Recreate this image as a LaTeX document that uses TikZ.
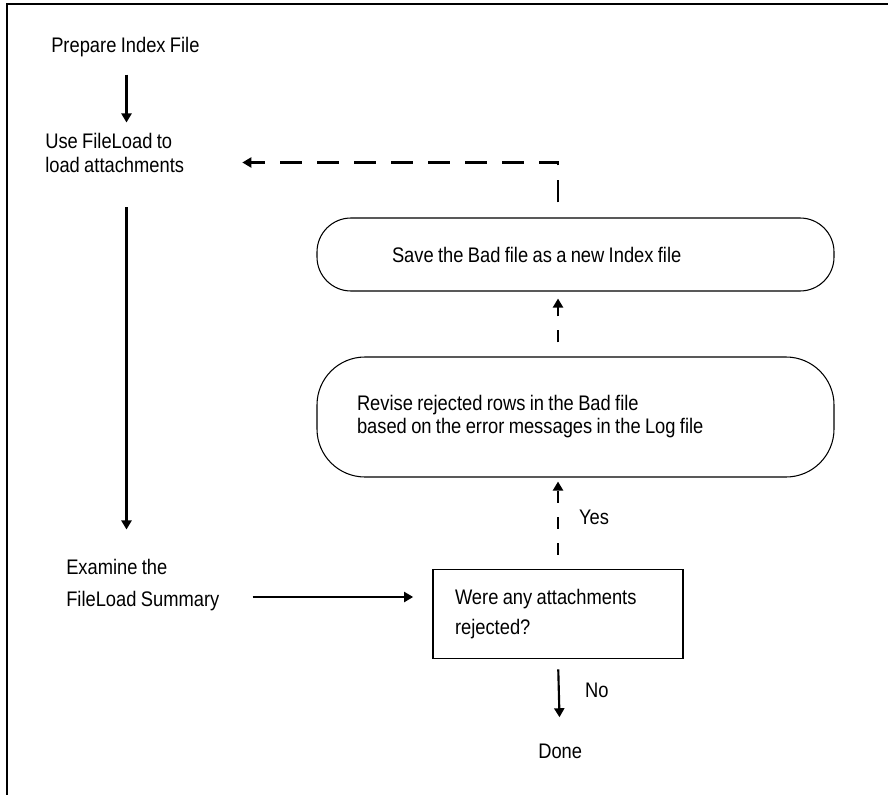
\documentclass[tikz,border=0pt]{standalone}
\usepackage{fontspec}
\setmainfont{Liberation Sans}[FakeStretch=0.87, WordSpace=0.85]
\usetikzlibrary{arrows.meta}
\begin{document}
\begin{tikzpicture}[x=0.75pt,y=-0.75pt,
  every node/.style={inner sep=0pt, font=\fontsize{15.8}{18}\selectfont,
    execute at begin node={\spaceskip=0pt\xspaceskip=0pt\relax}},
  lsp/.style={font=\fontsize{15.8}{#1}\selectfont},
  txt/.style={anchor=base west, align=left},
  terminal/.style={draw, line width=0.8pt, rounded corners=#1, align=left,
    minimum width=387.75pt, inner ysep=0pt},
  question/.style={draw, line width=1.3pt, align=left, minimum width=187.5pt,
    minimum height=66.75pt, inner xsep=16.5pt, text width=154.5pt, lsp=22.5pt},
  arr/.style={line width=1.6pt, -{Triangle[width=7.5pt,length=6.75pt]}},
  loopdash/.style={arr, dash pattern=on 16.5pt off 11.25pt, dash phase=16.5pt},
  backdash/.style={arr, dash pattern=on 9pt off 10.5pt, dash phase=9pt}
]
\useasboundingbox (0,0) rectangle (888,795);

% frame along the top and left edges
\draw[line width=1.7pt] (7.2,800) -- (7.2,4) -- (893,4);

% process steps down the left side (multi-line nodes sit on their last baseline)
\node[txt] (prep) at (51,53) {Prepare Index File};
\node[txt, lsp=18pt] (use) at (45,172) {Use FileLoad to\\load attachments};
\node[txt, lsp=24pt] (examine) at (66,606) {Examine the\\FileLoad Summary};

% correction loop on the right
\node[terminal=25.5pt, minimum height=54.75pt, inner xsep=56.25pt, text width=275.25pt]
  (save) at (575.5,254.5) {Save the Bad file as a new Index file};
\node[terminal=36pt, minimum height=90pt, inner xsep=30pt, text width=327.75pt, lsp=17.25pt]
  (revise) at (575.5,417) {Revise rejected rows in the Bad file\\based on the error messages in the Log file};

% decision and end
\node[question] (decision) at (558,614) {Were any attachments\\rejected?};
\node[txt] (done) at (538,758) {Done};

% helper positions for the connectors
\coordinate (spine) at (126.5,0);
\coordinate (row) at (0,597);
\coordinate (loop) at (558,162.5);

% main flow
\draw[arr, shorten <=17pt*0.75, shorten >=10pt*0.75] (spine |- prep.south) -- (spine |- use.north);
\draw[arr, shorten <=35pt*0.75, shorten >=29pt*0.75] (spine |- use.south) -- (spine |- examine.north);
\draw[arr, shorten <=33pt*0.75, shorten >=19pt*0.75] (examine.east |- row) -- (decision.west |- row);
\draw[arr, shorten <=10pt*0.75, shorten >=26pt*0.75] (decision.south) -- (done.north)
  node[txt, pos=0.45, xshift=18.75pt] (no) {No};

% rejected attachments go round the loop
\draw[backdash, shorten >=4pt*0.75] (decision.north) -- (decision.north |- revise.south)
  node[txt, pos=0.5, xshift=15pt, yshift=-1pt] (yes) {Yes};
\draw[backdash, shorten >=7pt*0.75] (decision.north |- revise.north) -- (decision.north |- save.south);
\draw[loopdash, shorten >=58pt*0.75] (loop |- save.north) -- (loop) -- (use.east |- loop);
\end{tikzpicture}
\end{document}
